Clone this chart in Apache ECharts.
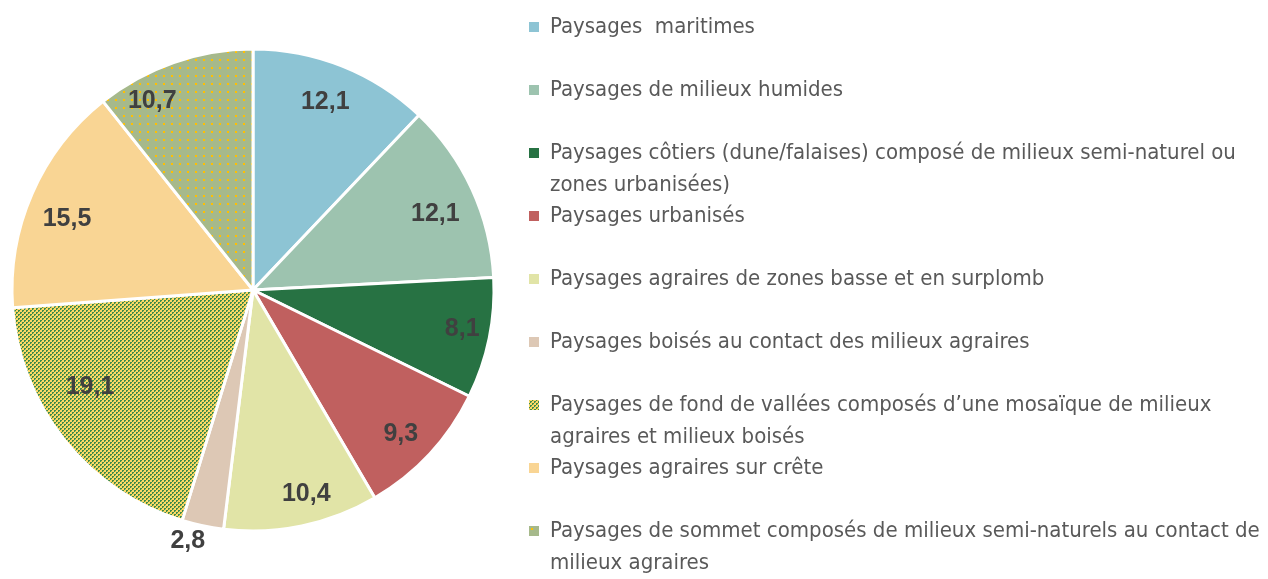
<!DOCTYPE html>
<html>
<head>
<meta charset="utf-8">
<script src="https://cdn.jsdelivr.net/npm/echarts@6/dist/echarts.min.js"></script>
<style>
  html, body { margin: 0; padding: 0; background: #ffffff; }
  #chart { width: 1268px; height: 579px; }
</style>
</head>
<body>
<div id="chart"></div>
<script>
// Landscape types (share of territory, %)
const categories = [
  'Paysages  maritimes',
  'Paysages de milieux humides',
  'Paysages côtiers (dune/falaises) composé de milieux semi-naturel ou\nzones urbanisées)',
  'Paysages urbanisés',
  'Paysages agraires de zones basse et en surplomb',
  'Paysages boisés au contact des milieux agraires',
  'Paysages de fond de vallées composés d\u2019une mosaïque de milieux\nagraires et milieux boisés',
  'Paysages agraires sur crête',
  'Paysages de sommet composés de milieux semi-naturels au contact de\nmilieux agraires'
];
const values = [12.1, 12.1, 8.1, 9.3, 10.4, 2.8, 19.1, 15.5, 10.7];
const valueLabels = ['12,1', '12,1', '8,1', '9,3', '10,4', '2,8', '19,1', '15,5', '10,7'];

// Small repeating tiles used as fills
function checkerTile() {
  const c = document.createElement('canvas');
  c.width = 4; c.height = 4;
  const g = c.getContext('2d');
  g.fillStyle = '#FFD966'; g.fillRect(0, 0, 4, 4);
  g.fillStyle = '#3F8A4A';
  g.fillRect(0, 0, 2, 2);
  g.fillRect(2, 2, 2, 2);
  // soften one corner of each cell so the yellow reads as crosses
  g.fillStyle = '#C9C85E';
  g.fillRect(1, 1, 1, 1);
  g.fillRect(3, 3, 1, 1);
  return c;
}
function dotTile() {
  const c = document.createElement('canvas');
  c.width = 8; c.height = 8;
  const g = c.getContext('2d');
  g.fillStyle = '#A6B98B'; g.fillRect(0, 0, 8, 8);
  g.fillStyle = '#FFC000';
  g.fillRect(3, 3, 2, 2);
  return c;
}

const fills = [
  '#8DC4D4',
  '#9DC3AF',
  '#277243',
  '#C0605F',
  '#E1E4A7',
  '#DDC8B5',
  { image: checkerTile(), repeat: 'repeat' },
  '#F9D594',
  { image: dotTile(), repeat: 'repeat' }
];

const center = [253, 290];
const R = 241;

// small per-label nudges (px) away from the slice bisector
const labelNudge = [[-5, 6], [-7, 11], [5, -3], [-5, 2], [11, 0], [-11, -3], [0, -33], [5, 13], [-32, 8]];

const sliceData = categories.map((name, i) => ({
  name, value: values[i], itemStyle: { color: fills[i] }
}));

const labelFont = {
  fontFamily: '"Liberation Sans", Arial, sans-serif',
  fontWeight: 'bold',
  fontSize: 25,
  color: '#404040'
};

// One legend block per entry, stacked at a fixed pitch. Wrapped entries get a
// leading blank line so the swatch sits level with their first line.
const pitch = 63;
const legends = categories.map((name, i) => {
  const wrapped = name.indexOf('\n') >= 0;
  return {
    orient: 'vertical',
    left: 522,
    top: wrapped ? 27 + i * pitch - 53 : 6 + i * pitch,
    itemWidth: 12,
    itemHeight: 12,
    icon: 'rect',
    selectedMode: false,
    data: [name],
    formatter: n => (wrapped ? ' \n' + n : n),
    textStyle: {
      fontFamily: '"DejaVu Sans Condensed", sans-serif',
      fontSize: 22,
      color: '#595959',
      lineHeight: 32,
      padding: [0, 0, 0, 5]
    }
  };
});

function labelSeries(name, radius, showFn) {
  return {
    name: name,
    type: 'pie',
    center: center,
    radius: radius,
    startAngle: 90,
    clockwise: true,
    silent: true,
    itemStyle: { color: 'rgba(0,0,0,0)', borderWidth: 0 },
    label: Object.assign({ show: true, position: 'inside',
      formatter: p => valueLabels[p.dataIndex] }, labelFont),
    labelLine: { show: false },
    data: categories.map((n, i) => ({
      name: n, value: values[i],
      label: { show: showFn(values[i]), offset: labelNudge[i] }
    }))
  };
}

const chart = echarts.init(document.getElementById('chart'), null, { renderer: 'canvas' });
chart.setOption({
  animation: false,
  legend: legends,
  series: [
    {
      name: 'slices',
      type: 'pie',
      center: center,
      radius: [0, R],
      startAngle: 90,
      clockwise: true,
      silent: true,
      itemStyle: { borderColor: '#ffffff', borderWidth: 3 },
      label: { show: false },
      labelLine: { show: false },
      data: sliceData
    },
    // value labels inside the slices, toward the rim
    labelSeries('labels', [170, R], v => v >= 5),
    // label of the thin slice, just beyond the rim
    labelSeries('outerLabels', [R, 272], v => v < 5)
  ]
});
</script>
</body>
</html>
